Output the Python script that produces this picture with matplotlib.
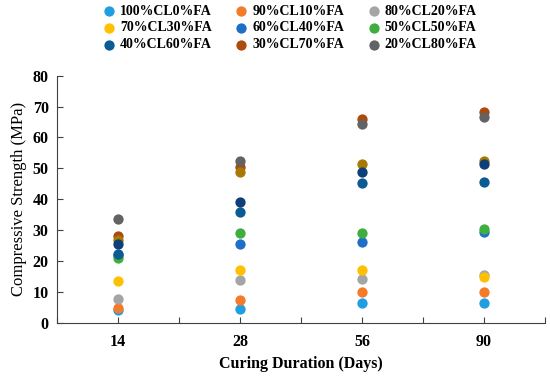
import matplotlib
matplotlib.use("Agg")
import matplotlib.pyplot as plt
from matplotlib.ticker import FixedLocator

plt.rcParams['font.family'] = ['Liberation Serif', 'DejaVu Serif']

days = ['14', '28', '56', '90']
mixes = ['100%CL0%FA', '90%CL10%FA', '80%CL20%FA',
         '70%CL30%FA', '60%CL40%FA', '50%CL50%FA',
         '40%CL60%FA', '30%CL70%FA', '20%CL80%FA',
         '_10%CL90%FA', '_0%CL100%FA']
colors = ['#1f9fdf', '#f47b2a', '#a5a5a5',
          '#ffc000', '#1f6fc8', '#3fae3f',
          '#0c5b92', '#ad4a0c', '#636363',
          '#a67a05', '#0f3f78']

# compressive strength (MPa) per mix, at 14/28/56/90 days
cl100 = [4.3, 4.4, 6.6, 6.6]
cl90 = [5.0, 7.3, 10.1, 10.1]
cl80 = [7.8, 13.9, 14.2, 15.6]
cl70 = [13.5, 17.1, 17.1, 14.8]
cl60 = [22.0, 25.5, 26.3, 29.5]
cl50 = [21.1, 29.0, 29.2, 30.5]
cl40 = [22.4, 36.0, 45.2, 45.5]
cl30 = [28.1, 50.4, 65.9, 68.2]
cl20 = [33.5, 52.4, 64.2, 66.5]
cl10 = [27.0, 48.7, 51.4, 52.5]
cl0 = [25.5, 39.0, 48.9, 51.4]
values = [cl100, cl90, cl80, cl70, cl60, cl50, cl40, cl30, cl20, cl10, cl0]

fig = plt.figure(figsize=(5.5, 3.8), dpi=100)
ax = fig.add_axes([0.1036, 0.15, 0.8874, 0.651])

x = list(range(len(days)))
handles = []
for name, col, vals in zip(mixes, colors, values):
    h = ax.scatter(x, vals, s=55, color=col, label=name, linewidths=0, zorder=3)
    handles.append(h)

ax.set_xlim(-0.5, 3.5)
ax.set_ylim(0, 80)
ax.set_xticks(x)
ax.set_xticklabels(days)
ax.xaxis.set_minor_locator(FixedLocator([-0.5, 0.5, 1.5, 2.5, 3.5]))
ax.set_yticks(range(0, 81, 10))
ax.tick_params(axis='both', which='both', direction='in', length=4,
               width=0.8, color='#404040', labelsize=11.5, pad=6)
ax.tick_params(axis='x', pad=8)
for lab in ax.get_xticklabels() + ax.get_yticklabels():
    lab.set_fontweight('bold')

ax.spines['top'].set_visible(False)
ax.spines['right'].set_visible(False)
ax.spines['left'].set_color('#404040')
ax.spines['bottom'].set_color('#404040')

ax.set_xlabel('Curing Duration (Days)', fontsize=11.5, fontweight='bold', labelpad=4)
ax.set_ylabel('Compressive Strength (MPa)', fontsize=12, labelpad=4)

# legend reads row by row, matplotlib fills columns -> reorder
order = [0, 3, 6, 1, 4, 7, 2, 5, 8]
fig.legend([handles[i] for i in order], [mixes[i] for i in order],
           loc='upper left', bbox_to_anchor=(0.174, 1.01), ncol=3,
           frameon=False, prop={'weight': 'bold', 'size': 10},
           handlelength=0.75, handletextpad=0.4, columnspacing=1.75,
           labelspacing=0.28, borderaxespad=0.2)

fig.savefig('out.png', dpi=100)
